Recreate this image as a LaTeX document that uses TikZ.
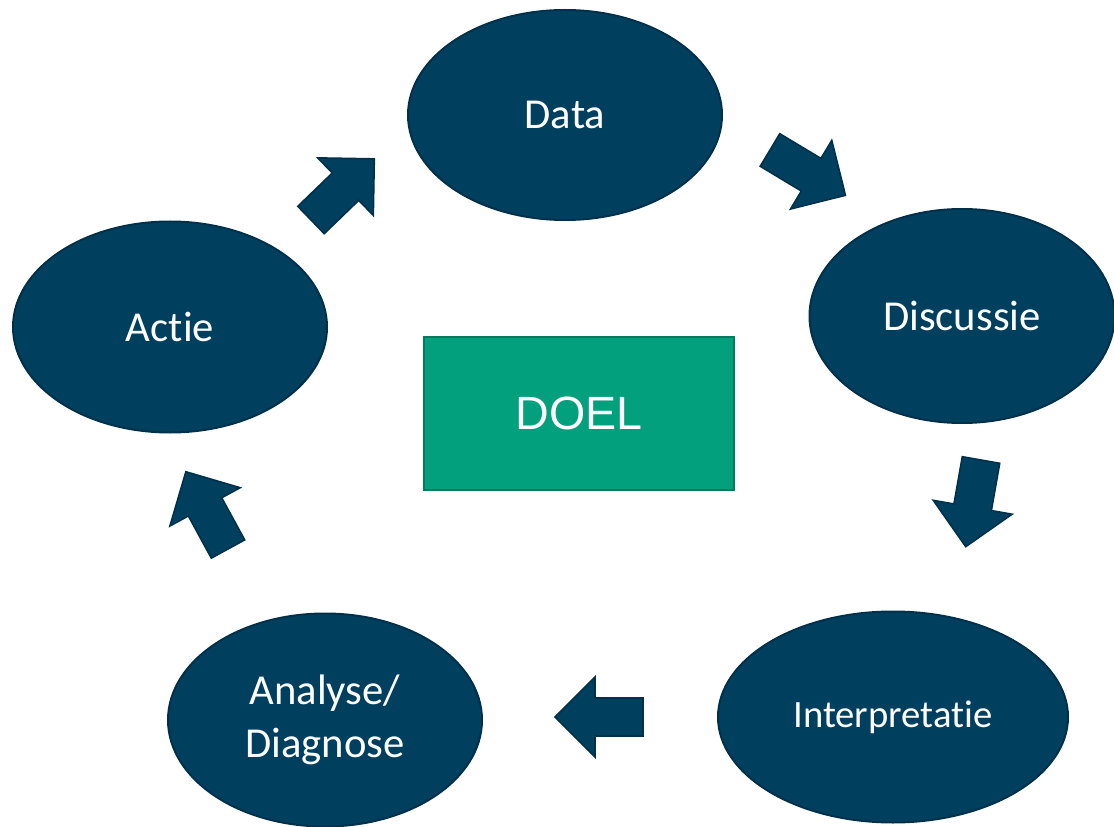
\documentclass[tikz,border=0pt]{standalone}
\usepackage{fontspec}
\setmainfont{Carlito}[Ligatures={NoCommon}]
\newfontfamily\arialfont{Liberation Sans}
\usetikzlibrary{shapes.geometric}
\definecolor{navy}{HTML}{013F5F}
\definecolor{navyline}{HTML}{01314A}
\definecolor{goal}{HTML}{02A07C}
\definecolor{goalline}{HTML}{017A5E}
\tikzset{
  elli/.style={ellipse, fill=navy, draw=navyline, line width=1.5pt, text=white,
    font=\fontsize{32}{40}\selectfont, align=center, inner sep=0pt},
  blockarrow/.style={fill=navy, draw=navyline, line width=1.2pt, line join=miter},
}
\newcommand{\blockarr}[3]{%
  \draw[blockarrow, shift={(#1,#2)}, rotate=#3]
    (0,-19) -- (48,-19) -- (48,-40) -- (88,0) -- (48,40) -- (48,19) -- (0,19) -- cycle;}
\begin{document}
\begin{tikzpicture}[x=0.75pt,y=-0.75pt]
\useasboundingbox (0,0) rectangle (1114,827);
\fill[white] (0,0) rectangle (1114,827);
\node[elli, minimum width=235.5pt, minimum height=157.5pt] (data) at (565,115) {Data};
\node[elli, minimum width=228.75pt, minimum height=160.5pt] (disc) at (962,316) {Discussie};
\node[elli, minimum width=262.5pt, minimum height=158.25pt, font=\fontsize{29}{36}\selectfont] (interp) at (893,717) {Interpretatie};
\node[elli, minimum width=235.5pt, minimum height=159.75pt] (anal) at (325,720) {Analyse/\\Diagnose};
\node[elli, minimum width=235.5pt, minimum height=158.25pt] (actie) at (170,327) {Actie};
\node[fill=goal, draw=goalline, line width=1.5pt, minimum width=232.5pt, minimum height=114.75pt,
  text=white, font=\arialfont\fontsize{35}{42}\selectfont] (doel) at (579,413.5) {DOEL};
\blockarr{311}{220}{44}
\blockarr{770}{150}{-31}
\blockarr{981}{460}{-100}
\blockarr{643}{717}{180}
\blockarr{228}{549}{118.6}
\end{tikzpicture}
\end{document}
